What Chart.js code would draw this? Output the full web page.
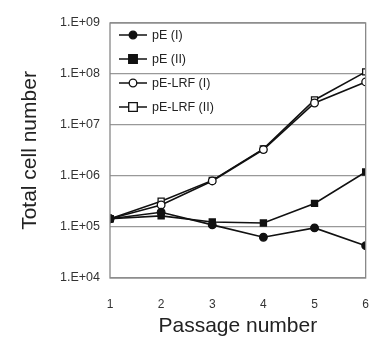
<!DOCTYPE html>
<html>
<head>
<meta charset="utf-8">
<script src="https://cdn.jsdelivr.net/npm/chart.js@4/dist/chart.umd.min.js"></script>
<style>
  html, body { margin: 0; padding: 0; background: #fff; }
  #wrap { width: 380px; height: 340px; }
</style>
</head>
<body>
<div id="wrap"><canvas id="chart" width="380" height="340"></canvas></div>
<script>
const passages = [1, 2, 3, 4, 5, 6];
const pE1 = [1.45e5, 1.95e5, 1.1e5, 6.3e4, 9.6e4, 4.3e4];
const pE2 = [1.45e5, 1.65e5, 1.25e5, 1.2e5, 2.9e5, 1.2e6];
const pELRF1 = [1.45e5, 2.7e5, 8.0e5, 3.3e6, 2.7e7, 7.0e7];
const pELRF2 = [1.45e5, 3.2e5, 8.2e5, 3.4e6, 3.1e7, 1.1e8];
const yTicks = [1e4, 1e5, 1e6, 1e7, 1e8, 1e9];

const FONT = "'Liberation Sans', Arial, sans-serif";
const toPoints = (vals) => vals.map((v, i) => ({ x: passages[i], y: v }));

function fmtExp(v) {
  const e = Math.round(Math.log10(v));
  return "1.E+" + String(e).padStart(2, "0");
}

// legend inside the plot, top-left, plus the box around the plot
const insideLegend = {
  id: "insideLegend",
  afterDatasetsDraw(chart) {
    const ctx = chart.ctx;
    const area = chart.chartArea;
    const x0 = area.left + 9;
    const rows = [35, 59, 83, 107];
    ctx.save();
    chart.data.datasets.forEach((ds, i) => {
      const y = rows[i];
      ctx.strokeStyle = "#111";
      ctx.lineWidth = 1.5;
      ctx.beginPath();
      ctx.moveTo(x0, y);
      ctx.lineTo(x0 + 28, y);
      ctx.stroke();
      ctx.fillStyle = ds.pointBackgroundColor;
      ctx.lineWidth = 1.3;
      ctx.beginPath();
      const r = ds.pointRadius;
      if (ds.pointStyle === "rect") {
        ctx.rect(x0 + 14 - r, y - r, 2 * r, 2 * r);
      } else {
        ctx.arc(x0 + 14, y, r, 0, Math.PI * 2);
      }
      ctx.fill();
      ctx.stroke();
      ctx.fillStyle = "#222";
      ctx.font = "12.5px " + FONT;
      ctx.textBaseline = "middle";
      ctx.textAlign = "left";
      ctx.fillText(ds.label, x0 + 33, y + 1);
    });
    ctx.restore();
  },
  afterDraw(chart) {
    const ctx = chart.ctx;
    const a = chart.chartArea;
    ctx.save();
    ctx.strokeStyle = "#888";
    ctx.lineWidth = 1.3;
    ctx.strokeRect(a.left, a.top, a.right - a.left, a.bottom - a.top);
    ctx.restore();
  },
};

const lineStyle = {
  borderColor: "#111",
  borderWidth: 1.6,
  pointBorderColor: "#111",
  pointBorderWidth: 1.3,
  tension: 0,
};

new Chart(document.getElementById("chart"), {
  type: "line",
  data: {
    datasets: [
      { ...lineStyle, label: "pE (I)", data: toPoints(pE1), pointStyle: "circle", pointRadius: 3.8, pointBackgroundColor: "#111" },
      { ...lineStyle, label: "pE (II)", data: toPoints(pE2), pointStyle: "rect", pointRadius: 4.3, pointBackgroundColor: "#111" },
      { ...lineStyle, label: "pE-LRF (I)", data: toPoints(pELRF1), pointStyle: "circle", pointRadius: 3.8, pointBackgroundColor: "#fff" },
      { ...lineStyle, label: "pE-LRF (II)", data: toPoints(pELRF2), pointStyle: "rect", pointRadius: 4.3, pointBackgroundColor: "#fff" },
    ],
  },
  options: {
    responsive: false,
    animation: false,
    layout: { padding: { top: 23, right: 12, left: 0, bottom: 0 } },
    plugins: {
      legend: { display: false },
      tooltip: { enabled: false },
    },
    scales: {
      x: {
        type: "linear",
        min: 1,
        max: 6,
        grid: { display: false },
        border: { display: false },
        ticks: {
          stepSize: 1,
          color: "#333",
          font: { family: FONT, size: 12 },
          padding: 11,
        },
        title: {
          display: true,
          text: "Passage number",
          color: "#222",
          font: { family: FONT, size: 21 },
          padding: { top: 0, bottom: 1 },
        },
        afterFit: (scale) => { scale.height = 62; },
      },
      y: {
        type: "logarithmic",
        min: 1e4,
        max: 1e9,
        afterBuildTicks: (scale) => {
          scale.ticks = yTicks.map((v) => ({ value: v }));
        },
        grid: { color: "#999", lineWidth: 1.2, drawTicks: false },
        border: { display: false },
        ticks: {
          callback: (v) => fmtExp(v),
          color: "#333",
          font: { family: FONT, size: 12.5 },
          padding: 10,
        },
        title: {
          display: true,
          text: "Total cell number",
          color: "#222",
          font: { family: FONT, size: 21 },
          padding: { top: 18, bottom: 0 },
        },
        afterFit: (scale) => { scale.width = 110; },
      },
    },
  },
  plugins: [insideLegend],
});
</script>
</body>
</html>
